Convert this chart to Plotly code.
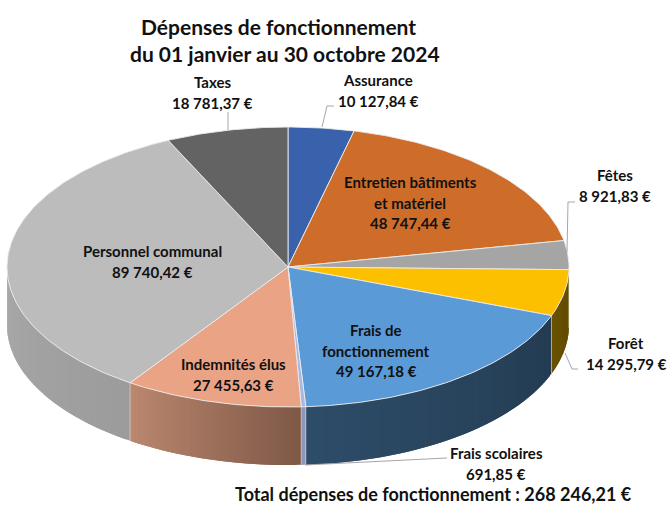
import numpy as np
import plotly.graph_objects as go

# --- data, clockwise from 12 o'clock ---
names = ["Assurance", "Entretien bâtiments|et matériel", "Fêtes", "Forêt",
         "Frais de|fonctionnement", "Frais scolaires", "Indemnités élus",
         "Personnel communal", "Taxes"]
values = [10127.84, 48747.44, 8921.83, 14295.79, 49167.18, 691.85, 27455.63, 89740.42, 18781.37]
value_labels = ["10 127,84 €", "48 747,44 €", "8 921,83 €", "14 295,79 €", "49 167,18 €",
                "691,85 €", "27 455,63 €", "89 740,42 €", "18 781,37 €"]
top_colors = ["#3A62AC", "#CE6C2A", "#A5A5A5", "#FDC000", "#5A9AD7", "#A9B8E2",
              "#EBA385", "#BCBCBC", "#636363"]
wall_left = ["#3A62AC", "#CE6C2A", "#A5A5A5", "#6A5200", "#2E4D69", "#8A97B8",
             "#BC8870", "#A9A9A9", "#636363"]
wall_right = ["#3A62AC", "#CE6C2A", "#A5A5A5", "#604A00", "#243C52", "#8A97B8",
              "#7F5947", "#9C9C9C", "#636363"]
label_pos = [(378, 80), (410, 182), (615, 175), (626, 343), (376, 330),
             (496, 453), (233, 364), (152, 251), (212, 82)]
title_lines = [("Dépenses de fonctionnement", 278.5, 26), ("du 01 janvier au 30 octobre 2024", 285, 53)]
total_text = "Total dépenses de fonctionnement : 268 246,21 €"

CX, CY, RX, RY, DEPTH = 288, 267, 281, 140, 58
FONT = "Lato"
LINE = 20.7

def hex_rgb(h):
    return np.array([int(h[i:i + 2], 16) for i in (1, 3, 5)], float)

def ell(theta):
    return CX + RX * np.sin(theta), CY - RY * np.cos(theta)

fig = go.Figure()
fracs = np.array(values) / sum(values)
edges = np.concatenate([[0], np.cumsum(fracs)]) * 2 * np.pi

# walls on the front half, as overlapping gradient strips
for i in range(len(values)):
    a, b = max(edges[i], np.pi / 2), min(edges[i + 1], 3 * np.pi / 2)
    if b <= a:
        continue
    n = max(2, int((b - a) * 60))
    ts = np.linspace(a, b, n + 1)
    cl, cr = hex_rgb(wall_left[i]), hex_rgb(wall_right[i])
    for k in range(n):
        tt = ts[k:min(k + 3, n + 1)]
        x, y = ell(tt)
        c = cr + (cl - cr) * ((k + 0.5) / n)
        col = "rgb(%d,%d,%d)" % tuple(c)
        fig.add_trace(go.Scatter(x=np.r_[x, x[::-1], x[0]], y=np.r_[y, y[::-1] + DEPTH, y[0]],
                                 mode="lines", fill="toself", fillcolor=col,
                                 line=dict(color=col, width=0), hoverinfo="skip"))

# light seams on the wall between slices
for i in range(1, len(values)):
    if np.pi / 2 < edges[i] < 3 * np.pi / 2:
        x0, y0 = ell(edges[i])
        fig.add_trace(go.Scatter(x=[x0, x0], y=[y0, y0 + DEPTH], mode="lines",
                                 line=dict(color="rgba(225,225,225,0.6)", width=1), hoverinfo="skip"))

# top faces
for i in range(len(values)):
    ts = np.linspace(edges[i], edges[i + 1], max(3, int((edges[i + 1] - edges[i]) * 80)))
    x, y = ell(ts)
    fig.add_trace(go.Scatter(x=np.r_[CX, x, CX], y=np.r_[CY, y, CY], mode="lines", fill="toself",
                             fillcolor=top_colors[i], line=dict(color="rgba(235,235,235,0.9)", width=1),
                             hoverinfo="skip"))

# leader lines
leaders = [([228, 228], [112, 130]), ([334, 327, 322], [106, 106, 127]),
           ([575, 568, 567], [202, 202, 252]), ([578, 572, 565], [369, 369, 353]),
           ([447, 305], [458, 465])]
for lx, ly in leaders:
    fig.add_trace(go.Scatter(x=lx, y=ly, mode="lines", line=dict(color="#A6A6A6", width=1), hoverinfo="skip"))

def put(text, x, y, size):
    fig.add_annotation(x=x, y=y, text=f"<b>{text}</b>", showarrow=False,
                       font=dict(family=FONT, size=size, color="#111111"))

# labels, one annotation per line
for n, v, (x, y) in zip(names, value_labels, label_pos):
    for j, line in enumerate(n.split("|") + [v]):
        put(line, x, y + j * LINE, 15)
for text, x, y in title_lines:
    put(text, x, y, 21)
put(total_text, 433, 494, 18)

fig.update_layout(width=667, height=506, margin=dict(l=0, r=0, t=0, b=0), showlegend=False,
                  paper_bgcolor="white", plot_bgcolor="white",
                  xaxis=dict(range=[0, 667], visible=False, fixedrange=True),
                  yaxis=dict(range=[506, 0], visible=False, fixedrange=True))
fig.write_html("out.html", config=dict(displayModeBar=False),
               post_script="document.body.style.margin='0';document.body.style.overflow='hidden';")
